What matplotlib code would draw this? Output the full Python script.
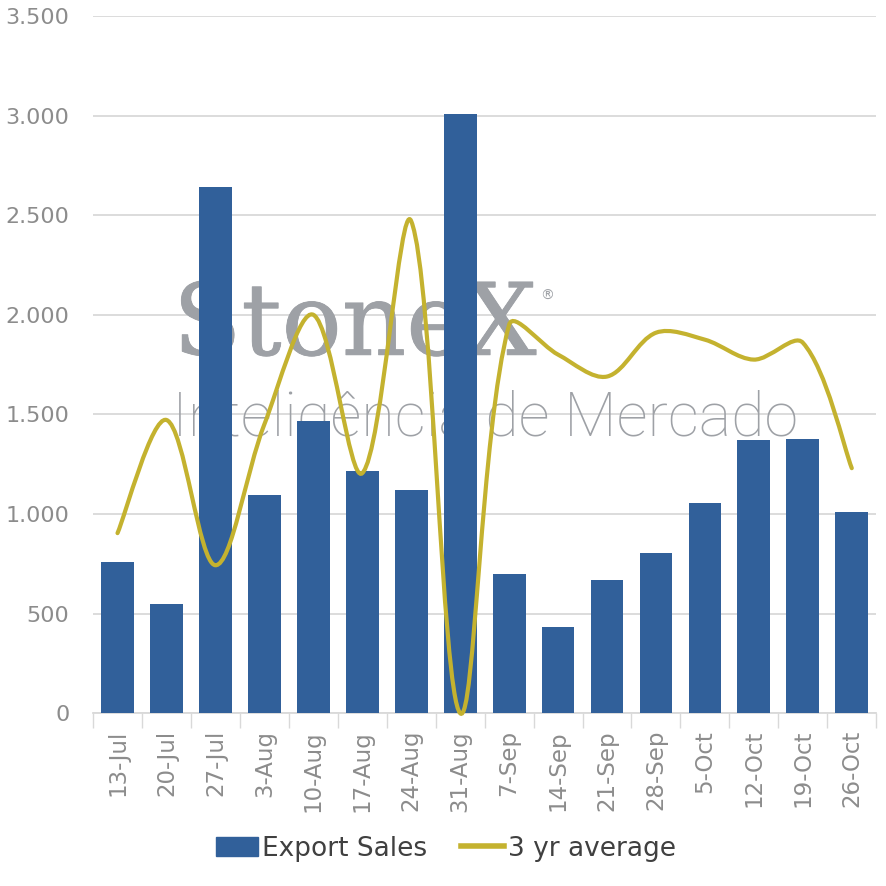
import matplotlib.pyplot as plt
import matplotlib.patheffects as pe
from matplotlib.path import Path
from matplotlib.patches import PathPatch, Patch
from matplotlib.lines import Line2D
from matplotlib.ticker import FuncFormatter, MultipleLocator

weeks = ['13-Jul', '20-Jul', '27-Jul', '3-Aug', '10-Aug', '17-Aug', '24-Aug',
         '31-Aug', '7-Sep', '14-Sep', '21-Sep', '28-Sep', '5-Oct', '12-Oct',
         '19-Oct', '26-Oct']
export_sales = [758, 547, 2642, 1095, 1467, 1215, 1120, 3009, 698, 432, 668,
                804, 1055, 1371, 1376, 1010]
avg_3yr = [904, 1472, 743, 1450, 2000, 1205, 2470, 0, 1950, 1800, 1690,
           1910, 1875, 1775, 1860, 1230]

BLUE = '#31609A'
GOLD = '#C4B22F'
GRAY = '#8C8C8C'
WM = '#9EA1A6'

fig = plt.figure(figsize=(8.86, 8.86), dpi=100)
ax = fig.add_axes([0.105, 0.195, 0.884, 0.787])
ax.set_facecolor('none')
ax.set_xlim(-0.5, len(weeks) - 0.5)
ax.set_ylim(0, 3500)

x = list(range(len(weeks)))
ax.bar(x, export_sales, width=0.67, color=BLUE, zorder=3)

# suavizado tipo Excel: tangentes ponderadas pelo comprimento em pixels
pts = [tuple(ax.transData.transform((a, b))) for a, b in zip(x, avg_3yr)]
n = len(pts)

def dist(p, q):
    return ((p[0] - q[0]) ** 2 + (p[1] - q[1]) ** 2) ** 0.5

ctrl_out, ctrl_in = [], []
for i in range(n):
    pp = pts[max(i - 1, 0)]
    pn = pts[min(i + 1, n - 1)]
    tx, ty = pn[0] - pp[0], pn[1] - pp[1]
    d0 = dist(pp, pts[i])
    d1 = dist(pts[i], pn)
    if 0 < i < n - 1:
        k_out = d1 / (d0 + d1) / 3
        k_in = d0 / (d0 + d1) / 3
    else:
        k_out = k_in = 1 / 6
    ctrl_out.append((pts[i][0] + tx * k_out, pts[i][1] + ty * k_out))
    ctrl_in.append((pts[i][0] - tx * k_in, pts[i][1] - ty * k_in))

verts = [pts[0]]
codes = [Path.MOVETO]
for i in range(n - 1):
    verts += [ctrl_out[i], ctrl_in[i + 1], pts[i + 1]]
    codes += [Path.CURVE4] * 3
ax.add_patch(PathPatch(Path(verts, codes), facecolor='none', edgecolor=GOLD,
                       lw=3, zorder=4, clip_on=False, capstyle='round',
                       transform=None))

ax.yaxis.set_major_locator(MultipleLocator(500))
ax.yaxis.set_major_formatter(FuncFormatter(lambda v, p: f'{int(v):,}'.replace(',', '.')))
ax.grid(axis='y', color='#D9D9D9', lw=1.3, zorder=0)
ax.set_axisbelow(True)

ax.set_xticks(x)
ax.set_xticklabels(weeks, rotation=90)
ax.set_xticks([i + 0.5 for i in range(-1, len(weeks))], minor=True)
ax.tick_params(axis='x', which='major', length=0, pad=12, labelsize=16.5, labelcolor=GRAY)
ax.tick_params(axis='x', which='minor', length=11, color='#D9D9D9', width=1)
ax.tick_params(axis='y', length=0, pad=17, labelsize=16, labelcolor=GRAY)
for s in ['top', 'right', 'left']:
    ax.spines[s].set_visible(False)
ax.spines['bottom'].set_color('#D9D9D9')
ax.spines['bottom'].set_linewidth(1.3)

# marca d'agua
ax.text(0.102, 0.514, 'StoneX', transform=ax.transAxes, fontsize=72,
        family='DejaVu Serif', weight='normal', color=WM, zorder=1,
        va='baseline',
        path_effects=[pe.withStroke(linewidth=0.6, foreground=WM)])
ax.text(0.571, 0.593, '®', transform=ax.transAxes, fontsize=10,
        color=WM, zorder=1, va='baseline')
ax.text(0.101, 0.399, 'Inteligência de Mercado', transform=ax.transAxes,
        fontsize=44, family='Roboto', weight='light', color=WM, zorder=1,
        va='baseline')

handles = [Patch(color=BLUE), Line2D([0], [0], color=GOLD, lw=4)]
fig.legend(handles, ['Export Sales', '3 yr average'], loc='center',
           bbox_to_anchor=(0.503, 0.042), ncol=2, frameon=False, fontsize=19,
           handlelength=1.6, handleheight=0.75, columnspacing=1.3,
           handletextpad=0.15, labelcolor='#404040')

fig.savefig('out.png', dpi=100)
